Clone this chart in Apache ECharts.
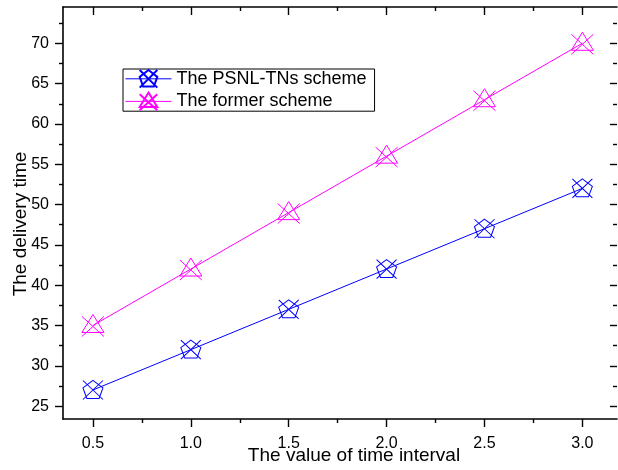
<!DOCTYPE html>
<html lang="en">
<head>
<meta charset="UTF-8">
<title>Delivery time</title>
<script src="https://cdn.jsdelivr.net/npm/echarts@6/dist/echarts.min.js"></script>
<style>
  html, body { margin: 0; padding: 0; background: #fff; }
</style>
</head>
<body>
<div id="main" style="width: 618px;height:470px;"></div>
<script>
  // data
  var intervals = [0.5, 1.0, 1.5, 2.0, 2.5, 3.0];
  var psnlTns = [27, 32, 37, 42, 47, 52];
  var former = [35, 42, 49, 56, 63, 70];
  var xMajor = [0.5, 1.0, 1.5, 2.0, 2.5, 3.0];
  var xMinor = [0.75, 1.25, 1.75, 2.25, 2.75];
  var yMajor = [25, 30, 35, 40, 45, 50, 55, 60, 65, 70];
  var yMinor = [27.5, 32.5, 37.5, 42.5, 47.5, 52.5, 57.5, 62.5, 67.5, 72.5];

  var font = 'Arial, "Liberation Sans", sans-serif';
  var X_MIN = 0.347, X_MAX = 3.177, Y_MIN = 23.4, Y_MAX = 74.5;

  function pairs(xs, ys) {
    return xs.map(function (x, i) { return [x, ys[i]]; });
  }

  // one side of the frame: ticks at the given values, optional line and labels
  function axis(pos, min, max, ticks, len, inside, showLine, labels) {
    return {
      type: 'value',
      position: pos,
      min: min,
      max: max,
      nameMoveOverlap: false,
      axisLine: { show: showLine, onZero: false, lineStyle: { color: '#000', width: 1.6 } },
      axisTick: { show: true, inside: inside, length: len, customValues: ticks,
                  lineStyle: { color: '#000', width: 1.4 } },
      axisLabel: labels ? {
        show: true, customValues: labels, fontSize: 16, color: '#000',
        fontFamily: font, margin: 17
      } : { show: false },
      splitLine: { show: false }
    };
  }

  var xBottom = axis('bottom', X_MIN, X_MAX, xMajor, 8, false, true, xMajor);
  xBottom.axisLabel.formatter = function (v) { return v.toFixed(1); };
  xBottom.name = 'The value of time interval';
  xBottom.nameLocation = 'middle';
  xBottom.nameGap = 27;
  xBottom.nameTextStyle = { fontSize: 19, color: '#000', fontFamily: font, padding: [0, 0, 0, 28] };

  var yLeft = axis('left', Y_MIN, Y_MAX, yMajor, 8, false, true, yMajor);
  yLeft.axisLabel.margin = 14;
  yLeft.name = 'The delivery time';
  yLeft.nameLocation = 'middle';
  yLeft.nameGap = 33;
  yLeft.nameTextStyle = { fontSize: 19, color: '#000', fontFamily: font, padding: [0, 22, 0, 0] };

  var pentagonX = 'path://M10,1L19,8L15.5,18L4.5,18L1,8Z M1,1L19,19 M19,1L1,19';
  var triangleX = 'path://M11,0L21,18L1,18Z M1,2L21,22 M21,2L1,22';

  var myChart = echarts.init(document.getElementById('main'));
  var option = {
    animation: false,
    backgroundColor: '#fff',
    grid: { left: 63, right: 1, top: 7, bottom: 49 },
    legend: {
      left: 123,
      top: 69,
      orient: 'vertical',
      itemWidth: 46,
      itemHeight: 22,
      itemGap: 3,
      padding: [0, 8, 0, 2],
      borderColor: '#000',
      borderWidth: 1,
      lineStyle: { width: 1 },
      textStyle: { fontSize: 18, color: '#000', fontFamily: font },
      data: ['The PSNL-TNs scheme', 'The former scheme']
    },
    xAxis: [
      xBottom,
      axis('bottom', X_MIN, X_MAX, xMinor, 4, false, false, null),
      axis('top', X_MIN, X_MAX, xMajor, 8, true, true, null),
      axis('top', X_MIN, X_MAX, xMinor, 4, true, false, null)
    ],
    yAxis: [
      yLeft,
      axis('left', Y_MIN, Y_MAX, yMinor, 4, false, false, null),
      axis('right', Y_MIN, Y_MAX, yMajor, 7, true, false, null),
      axis('right', Y_MIN, Y_MAX, yMinor, 4, true, false, null)
    ],
    series: [
      {
        name: 'The PSNL-TNs scheme',
        type: 'line',
        data: pairs(intervals, psnlTns),
        symbol: pentagonX,
        symbolSize: [20, 19],
        lineStyle: { color: '#0000ff', width: 1 },
        itemStyle: { color: 'rgba(0,0,0,0)', borderColor: '#0000ff', borderWidth: 1 }
      },
      {
        name: 'The former scheme',
        type: 'line',
        data: pairs(intervals, former),
        symbol: triangleX,
        symbolSize: [22, 22],
        lineStyle: { color: '#ff00ff', width: 1 },
        itemStyle: { color: 'rgba(0,0,0,0)', borderColor: '#ff00ff', borderWidth: 1 }
      }
    ]
  };
  myChart.setOption(option);
</script>
</body>
</html>
